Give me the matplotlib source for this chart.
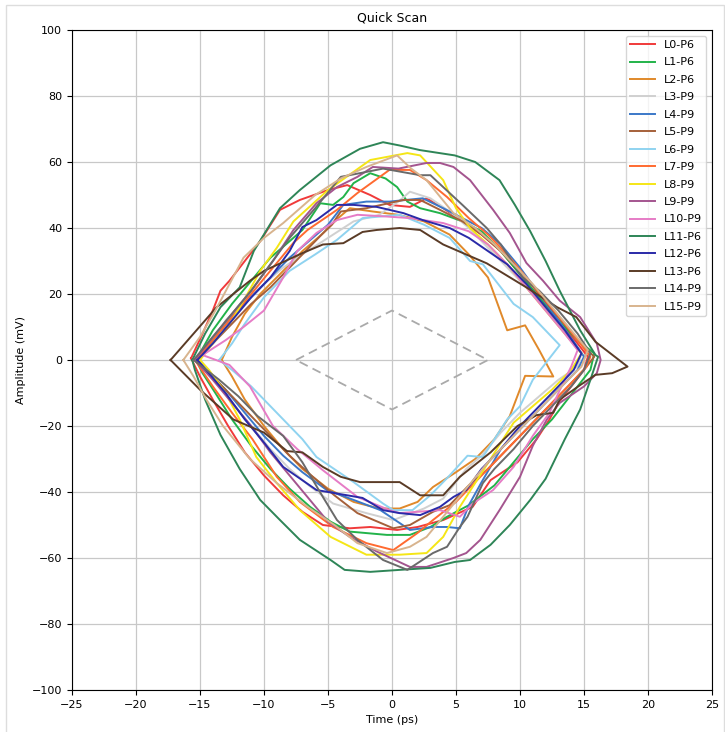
import numpy as np
import matplotlib
matplotlib.use("Agg")
import matplotlib.pyplot as plt
from matplotlib.patches import Rectangle

# ------------------------------------------------------------
# eye contours (time ps, amplitude mV)
# each one: top branch left -> right, then bottom branch back to the start
# ------------------------------------------------------------
L0 = [(-15.7, 0.5), (-14.8, 8), (-14, 15), (-13.4, 21), (-12.7, 24), (-11.5, 30), (-10.3, 36),
      (-8.75, 45.5), (-7.2, 48.5), (-5, 51.5), (-3.5, 53), (-1.7, 50), (-0.2, 47), (1.4, 46.4),
      (2.7, 49), (4, 46), (5.5, 42), (7, 38), (8.5, 33), (10, 26), (11.5, 19), (13, 12), (14.5, 5),
      (15.3, 1), (15, -3), (14, -8), (13, -13), (12.3, -18), (11.3, -24), (9.8, -31), (7.7, -36.4),
      (6.3, -44.5), (4, -48.5), (2, -50.6), (0.4, -51.5), (-1.7, -50.6), (-3.3, -51), (-5.4, -50),
      (-7, -46), (-8.5, -41), (-10, -35), (-11.5, -28), (-12.8, -20), (-14, -12), (-15, -5), (-15.7, 0.5)]

L1 = [(-15.3, 0), (-14, 9), (-12.5, 17), (-11, 24), (-9.5, 31), (-8, 36), (-7, 39.4), (-5.6, 47.5),
      (-4.6, 47), (-3.8, 49.4), (-3, 53.6), (-1.7, 56.6), (-0.5, 55), (0.4, 52.4), (1.2, 48), (2.2, 46),
      (3.75, 44.5), (5.5, 42), (7, 39), (8.5, 33), (10, 26), (11.5, 19), (13, 12), (14.5, 6), (15.8, 2),
      (15.5, -3), (14.5, -8), (13.5, -13), (12.5, -18), (11, -24), (9.5, -31), (8, -38), (6, -44),
      (4.3, -47.5), (3, -50.6), (1.4, -53), (-0.4, -53), (-3.3, -52), (-4.8, -49), (-6.4, -44.5),
      (-8, -39), (-9.5, -33), (-11, -26), (-12.5, -18), (-13.8, -10), (-14.8, -4), (-15.3, 0)]

L2 = [(-13.3, 0), (-12.5, 7), (-11.5, 14), (-10.3, 20), (-8.5, 27), (-7, 33), (-5.5, 38), (-4.2, 43),
      (-3.3, 46), (-1.5, 45), (0.5, 44), (2.5, 42), (4.5, 38), (6, 32), (7.5, 25), (9, 9), (10.4, 10.5),
      (11.5, 3), (12.6, -5), (10.4, -4.8), (9.2, -17), (8, -24), (6.5, -30), (5, -34), (3.2, -38.5),
      (2, -43), (0.6, -45), (-1, -45), (-3, -43), (-5, -39), (-7, -33), (-8.5, -27), (-10, -20),
      (-11.5, -12), (-12.5, -5), (-13.3, 0)]

L3 = [(-15, 0), (-14, 6), (-13, 12), (-11.5, 18), (-10, 23), (-8.5, 28), (-7, 32), (-5, 37), (-3, 42),
      (-1, 44), (0.5, 48), (1.4, 51), (3, 49), (4.5, 45), (6, 40), (7.5, 34), (9, 28), (10.5, 22),
      (12, 15), (13.5, 8), (14.8, 2), (14.5, -2), (13, -6), (11.5, -11), (10, -16), (8.5, -22),
      (7, -29), (5.8, -33), (5, -37), (4, -42), (2.5, -45), (0.1, -48.5), (-2, -46.4), (-4.6, -43.5),
      (-6.5, -38), (-8, -33), (-9.5, -27), (-11, -20), (-12.5, -13), (-13.8, -6), (-15, 0)]

L4 = [(-15.2, 0), (-14, 6), (-12.5, 13), (-11, 19), (-9.5, 25), (-8, 31), (-6.5, 36), (-5, 41),
      (-3.8, 47), (-2, 48), (-0.2, 48), (2.4, 49), (4, 46), (5.5, 43), (7, 40), (8.5, 35), (10, 28),
      (11.5, 20), (13, 12), (14.3, 5), (15, 1), (14.5, -3), (13, -9), (11.5, -15), (10, -21),
      (8.5, -27), (7, -37), (6, -44), (5.3, -51), (4.3, -50.6), (3.2, -50.6), (1.4, -51.5),
      (-0.9, -45.5), (-3, -42.4), (-5.1, -39.4), (-7, -34), (-8.5, -29), (-10, -23), (-11.5, -16),
      (-13, -9), (-14.3, -4), (-15.2, 0)]

L5 = [(-15.3, 0), (-14, 5), (-12.5, 11), (-11, 17), (-9.5, 22), (-8, 28), (-6.5, 34), (-5.5, 38),
      (-4.7, 41), (-4, 45), (-2, 46), (0.9, 48.5), (2.2, 48.5), (3.75, 45.5), (5.5, 42), (7, 38),
      (8.5, 33), (10, 27), (11.5, 20), (13, 13), (14.5, 6), (15.8, 1), (15, -3), (13.5, -9),
      (12, -15), (10.5, -21), (9, -27), (7.5, -33), (6, -38), (4.5, -44), (3.2, -46), (1.4, -50),
      (0.1, -51), (-2.7, -46.4), (-4.5, -41), (-6.3, -35), (-8, -29), (-9.5, -23), (-11, -17),
      (-12.5, -11), (-14, -5), (-15.3, 0)]

L6 = [(-13.5, 0), (-12.5, 5), (-11.5, 11), (-10, 19), (-8, 27), (-6, 32), (-4.3, 36.4), (-2.3, 43),
      (0.6, 44), (2.5, 41), (4.5, 37), (6.1, 30), (7.1, 29), (9.5, 17), (11, 13), (13.1, 4.5),
      (12, -1), (11, -6), (10, -14), (9, -18), (7.1, -29.4), (5.9, -29), (4.5, -35), (3, -41),
      (1.6, -45.5), (0.1, -45.5), (-0.7, -43.5), (-3, -37), (-5.9, -29.4), (-7, -24), (-8, -20),
      (-9.5, -14), (-11, -8), (-12.5, -3), (-13.5, 0)]

L7 = [(-15.4, 0), (-14, 6), (-12.5, 13), (-11, 20), (-9, 29.4), (-7.7, 35.5), (-6.6, 39.4),
      (-4.3, 45.5), (-2.7, 50.6), (-0.2, 57.6), (1.4, 57.6), (2.7, 54.5), (4.3, 49.4), (6, 43),
      (7.5, 38), (9, 32), (10.5, 25), (12, 18), (13.5, 11), (14.5, 6), (15.5, 1), (15.2, -2),
      (14, -7), (12.5, -13), (11, -19), (9.5, -25), (8, -31), (6.5, -37), (5, -43), (3.2, -48.5),
      (2, -52.4), (0.1, -57.6), (-2, -55.5), (-4.6, -50.6), (-7.2, -43), (-9, -35.4), (-10.9, -24),
      (-12.5, -16), (-14, -8), (-15.4, 0)]

L8 = [(-15, 0), (-14, 5), (-12.5, 12), (-11.3, 20), (-10.3, 27), (-9, 34), (-7.7, 42), (-5, 51.5),
      (-1.7, 60.6), (1.2, 62.7), (2.2, 62), (4, 54.5), (5, 46), (6.1, 40), (7.5, 35), (9, 29),
      (10.5, 22), (12, 15), (13.5, 8), (14.8, 2), (14, -3), (12.5, -9), (11, -14), (9.5, -19),
      (7.7, -30), (5.3, -44.5), (4, -53.6), (2.7, -58.5), (0.6, -59), (-2, -59), (-4.8, -53.6),
      (-7.2, -45.5), (-9, -37.3), (-10.6, -29.4), (-11.9, -18), (-13, -10), (-14.3, -3), (-15, 0)]

L9 = [(-15.4, 0), (-14, 7), (-12.5, 14), (-11, 21), (-9.3, 30), (-7.7, 39.4), (-5.9, 47.5),
      (-4.3, 52.4), (-2.7, 55.5), (-1.5, 58.5), (0.5, 58), (2.7, 59.7), (3.75, 59.7), (4.8, 58.5),
      (6.1, 54.5), (7.9, 45.5), (9.2, 38.5), (10.5, 29.4), (11.8, 24), (13.1, 18), (14.7, 13),
      (16, 5), (16.3, 0), (16, -4), (15, -8), (13.1, -13), (12.1, -18), (11, -26), (10, -35.4),
      (8.4, -45.5), (6.9, -54.5), (5.8, -58.5), (4.8, -60), (2.7, -62.7), (1.4, -62.7), (-1.2, -58),
      (-3.3, -53.6), (-5, -49), (-6.5, -42), (-8, -35), (-9.5, -28), (-11, -20), (-12.5, -13),
      (-14, -6), (-15.4, 0)]

L10 = [(-14.8, 1.5), (-13, 6), (-11.6, 10), (-10, 15), (-8.5, 25), (-7.4, 33), (-5.9, 38.5),
       (-4.3, 42.4), (-2.7, 44), (-0.5, 43.5), (1.4, 43), (4, 41.5), (6, 39), (7.5, 35), (9, 29),
       (10.5, 22), (12, 15), (13.5, 8), (14.5, 3), (14, -2), (13, -10), (12.3, -16), (11, -23),
       (9.5, -32.4), (7.9, -39.4), (6.3, -43.5), (5.3, -47.5), (3.75, -45.5), (2, -46), (0.6, -46.4),
       (-0.2, -45.5), (-2.7, -41.5), (-5.4, -33.4), (-7.4, -27), (-9.3, -20), (-11.1, -8),
       (-12.7, -1.5), (-14.8, 1.5)]

L11 = [(-15.6, 0), (-14.6, 8), (-13.4, 16), (-11.9, 22), (-10.8, 33), (-8.75, 46), (-7.2, 51.5),
       (-4.8, 59), (-2.5, 64), (-0.7, 66), (0.6, 65), (2.2, 63.6), (4.9, 62), (6.5, 60), (8.4, 54.5),
       (9.6, 47), (10.8, 39), (12, 30), (13.1, 21), (14.7, 9), (15.9, 1.5), (16.1, 1), (15.5, -6),
       (14.7, -15), (13.5, -24), (12, -36), (10.8, -42.4), (9.2, -50), (7.7, -56), (6.1, -60.6),
       (4.9, -61.2), (3, -63), (0.6, -63.6), (-1.7, -64.2), (-3.7, -63.6), (-4.8, -60.6),
       (-7.2, -54.5), (-8.75, -48.5), (-10.3, -42.4), (-11.9, -33), (-13.4, -22.7), (-14.6, -12),
       (-15.4, -3), (-15.6, 0)]

L12 = [(-15.2, 0), (-14, 5), (-12.5, 12), (-11, 19), (-9.5, 25), (-8, 33), (-7, 40.3), (-5.9, 42.4),
       (-4.3, 47), (-3, 47), (-1.2, 46.4), (0.9, 44.5), (2.4, 42.4), (4.5, 40), (6, 37), (7.5, 33),
       (9, 29), (10.5, 23), (12, 16), (13.5, 9), (14.8, 2), (14.2, -3), (13, -8), (11.5, -14),
       (10, -20), (8.5, -27), (7, -33), (5.8, -39.4), (4.8, -41.5), (3.75, -44.5), (2.2, -47),
       (0.6, -46.4), (-0.7, -45.5), (-2.3, -41.8), (-5.9, -39.4), (-8.5, -32.4), (-10, -25),
       (-11.5, -18), (-13, -10), (-14.3, -4), (-15.2, 0)]

L13 = [(-17.3, 0), (-15.5, 8), (-13.7, 16), (-11.1, 24), (-10, 27), (-8.5, 29.7), (-7, 32.4),
       (-5.4, 35), (-3.8, 35.4), (-2.3, 38.8), (-1.2, 39.4), (0.6, 40), (2.2, 39.4), (4, 35),
       (5.9, 31.8), (7.4, 29.3), (10.5, 22), (12.9, 16), (14.4, 13), (15.9, 5.5), (18.4, -2),
       (17.2, -4), (15.9, -4.5), (14.7, -7.6), (13.1, -12), (12.6, -16), (11.3, -16.7), (9.8, -20),
       (7.7, -28), (5.3, -35.4), (4, -41), (2.2, -41), (0.6, -37), (-2.5, -37), (-4, -35.4),
       (-5.4, -32.4), (-7, -28), (-8.2, -27.6), (-10, -22), (-12.4, -18), (-15, -9), (-17.3, 0)]

L14 = [(-15.5, 0), (-14, 7), (-12.5, 14), (-11, 21), (-9.5, 29), (-8, 37), (-6, 46), (-4, 55.5),
       (-2, 57), (-0.7, 58), (2.2, 56), (3, 56), (4, 52.4), (5.5, 47), (7.4, 40), (8.5, 35),
       (10.2, 25), (11.5, 21), (13, 15), (14.5, 8), (15.5, 2), (15, -3), (14, -8), (12.5, -14),
       (11, -20), (9.5, -27), (8, -33), (7.1, -37.3), (5.9, -47.5), (5.3, -50.6), (4.3, -56.6),
       (3.2, -58.5), (1.2, -63.6), (-0.7, -60.6), (-2.7, -54.5), (-4.3, -48.5), (-5.4, -41.5),
       (-7, -31), (-8.5, -23), (-10.5, -17), (-12, -11), (-13.5, -6), (-15.5, 0)]

L15 = [(-16.3, 0), (-15, 7), (-13.8, 15), (-12.7, 23), (-11.6, 31), (-10, 37), (-8.5, 41.5),
       (-6, 50), (-4, 55), (-2, 58.5), (0.4, 62), (1.5, 58), (2.7, 54.5), (4.8, 44.5), (6.5, 40),
       (8, 35), (9.5, 29), (11, 23), (12.5, 16), (14, 9), (15.3, 3), (14.8, -2), (13.5, -7),
       (12, -13), (10.5, -19), (9, -25), (7.5, -31), (6, -38), (4, -47.5), (2.7, -53.6), (1.4, -56.6),
       (-0.4, -58.5), (-2.7, -55.5), (-4.5, -50), (-6.6, -44.5), (-9, -37.3), (-11.1, -30),
       (-13.2, -20), (-14.5, -12), (-15.5, -5), (-16.3, 0)]

curves = [L0, L1, L2, L3, L4, L5, L6, L7, L8, L9, L10, L11, L12, L13, L14, L15]
labels = ["L0-P6", "L1-P6", "L2-P6", "L3-P9", "L4-P9", "L5-P9", "L6-P9", "L7-P9",
          "L8-P9", "L9-P9", "L10-P9", "L11-P6", "L12-P6", "L13-P6", "L14-P9", "L15-P9"]
colors = ["#f03a3a", "#22b34a", "#e0892a", "#d0d0d0", "#3b78c8", "#a5603a", "#8fd3f0", "#ff6a30",
          "#f5e616", "#a4558f", "#e67cc6", "#2e8557", "#2a2aa8", "#5a3b26", "#6a6a6a", "#d8b48e"]

# target mask (dashed diamond)
mask_t = [-7.5, 0, 7.5, 0, -7.5]
mask_a = [0, 15, 0, -15, 0]

# ------------------------------------------------------------
fig = plt.figure(figsize=(7.25, 7.32), dpi=100)
ax = fig.add_axes([72 / 725, 42 / 732, 640 / 725, 660 / 732])

for pts, lab, col in zip(curves, labels, colors):
    t = [p[0] for p in pts]
    a = [p[1] for p in pts]
    ax.plot(t, a, color=col, lw=1.4, label=lab)

ax.plot(mask_t, mask_a, color="#aaaaaa", lw=1.3, ls=(0, (5, 3)))

ax.set_xlim(-25, 25)
ax.set_ylim(-100, 100)
ax.set_xticks(np.arange(-25, 26, 5))
ax.set_yticks(np.arange(-100, 101, 20))
ax.grid(True, color="#c8c8c8", lw=0.9)
ax.tick_params(labelsize=8)
ax.set_title("Quick Scan", fontsize=9)
ax.set_xlabel("Time (ps)", fontsize=8)
ax.set_ylabel("Amplitude (mV)", fontsize=8)
ax.legend(loc="upper right", fontsize=8, labelspacing=0.67, handlelength=2.2)

# notebook output frame
fig.patches.append(Rectangle((6 / 725, -0.01), 718 / 725, 1 - 5 / 732 + 0.01,
                             transform=fig.transFigure, fill=False, ec="#dddddd", lw=1))

plt.savefig("out.png", dpi=100)
